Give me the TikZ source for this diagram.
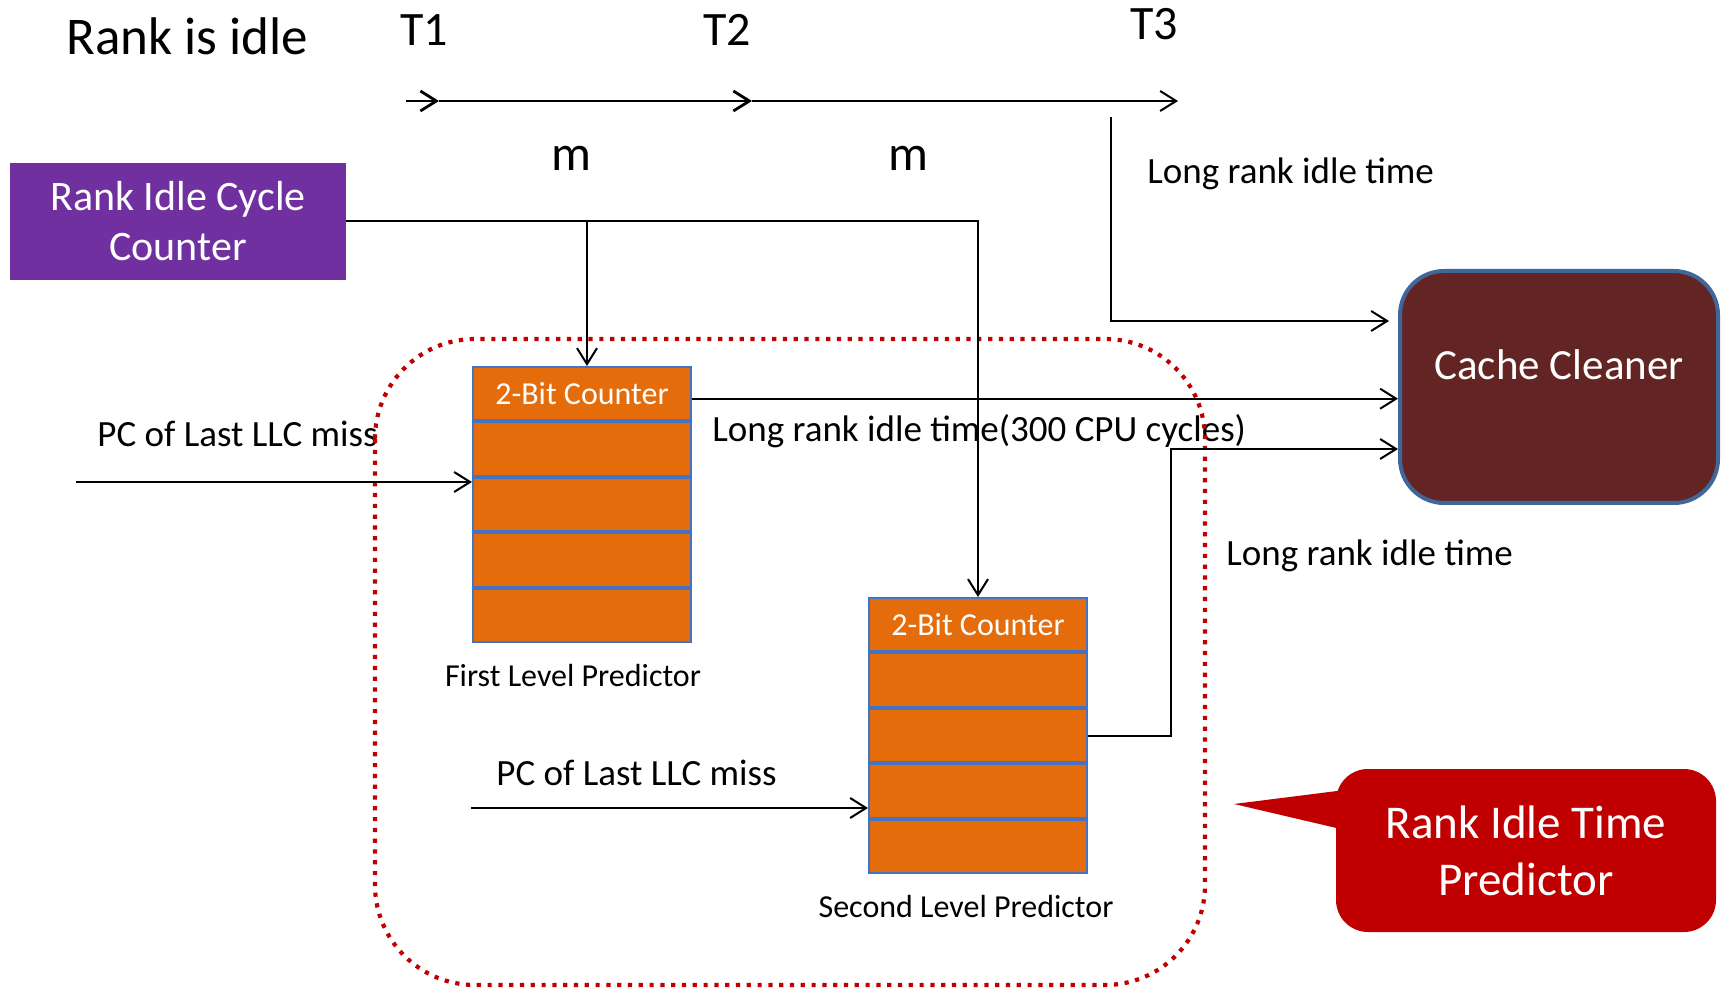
\documentclass[tikz,border=0pt]{standalone}
\usepackage{fontspec}
\setmainfont{Carlito}
\usetikzlibrary{arrows.meta,positioning}
\definecolor{rpurple}{HTML}{7030A0}
\definecolor{corange}{HTML}{E46C0A}
\definecolor{cblue}{HTML}{4472C4}
\definecolor{cleanfill}{HTML}{632523}
\definecolor{cleanedge}{HTML}{41679A}
\definecolor{predred}{HTML}{C00000}
\tikzset{
  conn/.style={draw=black, line width=1pt, -{Straight Barb[length=8pt,width=10pt]}},
  txt/.style={inner sep=0pt, anchor=base west, text=black},
  lbl/.style={txt, font=\fontsize{18.5}{22}\selectfont},
  tick/.style={txt, font=\fontsize{24}{28}\selectfont},
  cell/.style={draw=cblue, fill=corange, line width=1pt, minimum width=109pt,
    minimum height=26.7pt, inner sep=0pt, text=white, font=\fontsize{16}{19}\selectfont},
  predcaption/.style={inner sep=0pt, anchor=base, font=\fontsize{16}{19}\selectfont},
  dotbox/.style={draw=predred, line width=2.1pt, dash pattern=on 2.1pt off 3.3pt, rounded corners=50pt},
}
\begin{document}
\begin{tikzpicture}[x=0.5pt,y=-0.5pt]
\useasboundingbox (0,0) rectangle (1729,988);

% timeline
\node[txt, font=\fontsize{26.5}{30}\selectfont] (idle) at (66,55) {Rank is idle};
\node[tick] (T1) at (400,46) {T1};
\node[tick] (T2) at (703,46) {T2};
\node[tick] (T3) at (1130,40) {T3};
\node[txt, font=\fontsize{25}{30}\selectfont] (m1) at (551,171) {m};
\node[txt, font=\fontsize{25}{30}\selectfont] (m2) at (888,171) {m};
\coordinate (t0) at (406,101);
\coordinate (t1) at (439,101);
\coordinate (t2) at (752,101);
\coordinate (t3) at (1178,101);
\draw[conn, line width=1.4pt] (t0) -- (t1);
\draw[conn, line width=1.4pt] (t1) -- (t2);
\draw[conn] (t2) -- (t3);

% text labels
\node[lbl] (lrtop) at (1147,184) {Long rank idle time};
\node[lbl] (lr300) at (712,442) {Long rank idle time(300 CPU cycles)};
\node[lbl] (lrlow) at (1226,566) {Long rank idle time};
\node[lbl] (pcl1) at (97,447) {PC of Last LLC miss};
\node[lbl] (pcl2) at (496,785) {PC of Last LLC miss};

% predictor region
\draw[dotbox] (375,339) rectangle (1205,985);

% cycle counter
\node[fill=rpurple, minimum width=168pt, minimum height=58.5pt, inner sep=0pt, text=white,
  align=center, font=\fontsize{21}{25}\selectfont] (ricc) at (178,221.5) {Rank Idle Cycle\\Counter};

% cache cleaner
\node[draw=cleanedge, fill=cleanfill, line width=2pt, rounded corners=22pt, minimum width=159pt,
  minimum height=116pt, inner sep=0pt, text=white, font=\fontsize{21.5}{26}\selectfont,
  text height=14pt, text depth=21pt] (cc) at (1559,387) {Cache Cleaner};

% first level predictor
\node[cell] (c1h) at (582,393.7) {2-Bit Counter};
\node[cell, below=0pt of c1h] (c1r1) {};
\node[cell, below=0pt of c1r1] (c1r2) {};
\node[cell, below=0pt of c1r2] (c1r3) {};
\node[cell, below=0pt of c1r3] (c1r4) {};
\node[predcaption] (flp) at (573,686) {First Level Predictor};

% second level predictor
\node[cell] (c2h) at (978,624.7) {2-Bit Counter};
\node[cell, below=0pt of c2h] (c2r1) {};
\node[cell, below=0pt of c2r1] (c2r2) {};
\node[cell, below=0pt of c2r2] (c2r3) {};
\node[cell, below=0pt of c2r3] (c2r4) {};
\node[predcaption] (slp) at (966,917) {Second Level Predictor};

% callout
\node[fill=predred, rounded corners=16pt, minimum width=190pt, minimum height=81.5pt, inner sep=0pt,
  text=white, align=center, font=\fontsize{23.5}{28.5}\selectfont] (ritp) at (1526,850.5) {Rank Idle Time\\Predictor};
\coordinate (ptip) at (1234,804);
\coordinate (pb1) at (1345,790);
\coordinate (pb2) at (1345,830);
\fill[predred] (pb1) -- (ptip) -- (pb2) -- cycle;

% connectors
\coordinate (j1) at (587,221.5);
\draw[conn] (ricc.east) -| (c2h.north);
\draw[conn] (j1) -- (j1 |- c1h.north);
\coordinate (lrs) at (1111,117);
\coordinate (ccin) at (1389,321);
\draw[conn] (lrs) |- (ccin);
\draw[conn] ([yshift=-2.5pt]c1h.east) -- ([yshift=-2.5pt]c1h.east -| cc.west);
\coordinate (k) at (1171,449);
\draw[conn] (c2r2.east) -| (k) -- (k -| cc.west);
\coordinate (pc1) at (76,482);
\draw[conn] (pc1) -- (pc1 -| c1h.west);
\coordinate (pc2) at (471,808);
\draw[conn] (pc2) -- (pc2 -| c2h.west);
\end{tikzpicture}
\end{document}
